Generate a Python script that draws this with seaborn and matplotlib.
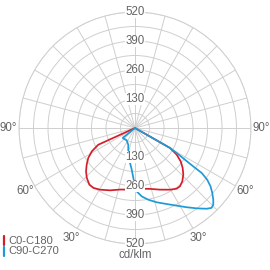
import numpy as np
import pandas as pd
import matplotlib
matplotlib.use("Agg")
import matplotlib.pyplot as plt
from matplotlib.lines import Line2D
import seaborn as sns

# gamma angles in degrees (negative = left half), intensity in cd/klm
red_angles = [-66, -65.5, -61.6, -57.3, -52.8, -48.5, -44, -38.9, -34.8, -29.6, -21.8,
              -13.7, -4.6, 0, 4.7, 13.8, 22, 29.6, 34.5, 37.6, 41.5, 46, 50, 53.8,
              57.4, 60.3, 61]
red_values = [0, 181, 220, 249, 272, 293, 311, 326, 327, 318, 301,
              284, 277, 275, 273, 281, 298, 318, 330, 330, 320, 301, 279, 254,
              222, 181, 0]

blue_angles = [-55, -50.9, -33.8, -21.9, -15, -8.1, -4.5, -1.9, 0, 1.5, 5.6, 10.5,
               16.3, 22.6, 28.2, 33.1, 37.5, 41.6, 43.8, 45.6, 47.5, 50, 52.3, 54.4,
               56, 56.6, 57.6, 59.1, 60.3, 61]
blue_values = [0, 71, 67, 81, 116, 158, 187, 224, 262, 284, 308, 327,
               347, 369, 395, 424, 454, 484, 496, 491, 476, 452, 428, 398,
               361, 313, 265, 218, 181, 0]

ring_labels = [130, 260, 390, 520]
angle_labels = [90, 60, 30]

red = "#d41f2a"
blue = "#1c9bd8"
grey_txt = "#646464"

sns.set_style("white")
plt.rcParams["font.family"] = ["Liberation Sans", "DejaVu Sans"]

fig = plt.figure(figsize=(2.7, 2.7), dpi=100)
ax = fig.add_axes([19 / 270, 26 / 270, 232 / 270, 232 / 270], projection="polar")
ax.set_theta_zero_location("S")
ax.set_theta_direction(1)
ax.set_ylim(0, 520)

df_red = pd.DataFrame({"theta": np.radians(red_angles), "r": red_values})
df_blue = pd.DataFrame({"theta": np.radians(blue_angles), "r": blue_values})
sns.lineplot(data=df_red, x="theta", y="r", color=red, lw=1.25, sort=False, ax=ax)
sns.lineplot(data=df_blue, x="theta", y="r", color=blue, lw=1.25, sort=False, ax=ax)

# grid
ax.set_thetagrids(np.arange(0, 360, 15), labels=[])
ax.set_rgrids(np.arange(65, 521, 65), labels=[])
ax.grid(True, color="#cfcfcf", lw=0.7)
ax.spines["polar"].set_color("#cfcfcf")
ax.spines["polar"].set_linewidth(0.7)
ax.set_xlabel("")
ax.set_ylabel("")

# radial value labels (top and bottom)
for v in ring_labels:
    for th in (np.pi, 0.0):
        ax.text(th, v, str(v), ha="center", va="center", fontsize=8.3, color=grey_txt,
                bbox=dict(facecolor="white", edgecolor="none", pad=0.3))

# angle labels
for a in angle_labels:
    for s in (-1, 1):
        ax.text(np.radians(s * a), 568, f"{a}°", ha="center", va="center",
                fontsize=8.3, color=grey_txt, clip_on=False)

fig.text(135 / 270, 1 - 255 / 270, "cd/klm", ha="center", va="center",
         fontsize=8.3, color=grey_txt)

# legend
for y0, col, lab in [(240.5, red, "C0-C180"), (251.5, blue, "C90-C270")]:
    fig.add_artist(Line2D([3.8 / 270, 3.8 / 270], [1 - (y0 - 4.5) / 270, 1 - (y0 + 4.5) / 270],
                          transform=fig.transFigure, color=col, lw=1.6))
    fig.text(8 / 270, 1 - y0 / 270, lab, ha="left", va="center", fontsize=8, color=grey_txt)

fig.savefig("out.png", dpi=100)
